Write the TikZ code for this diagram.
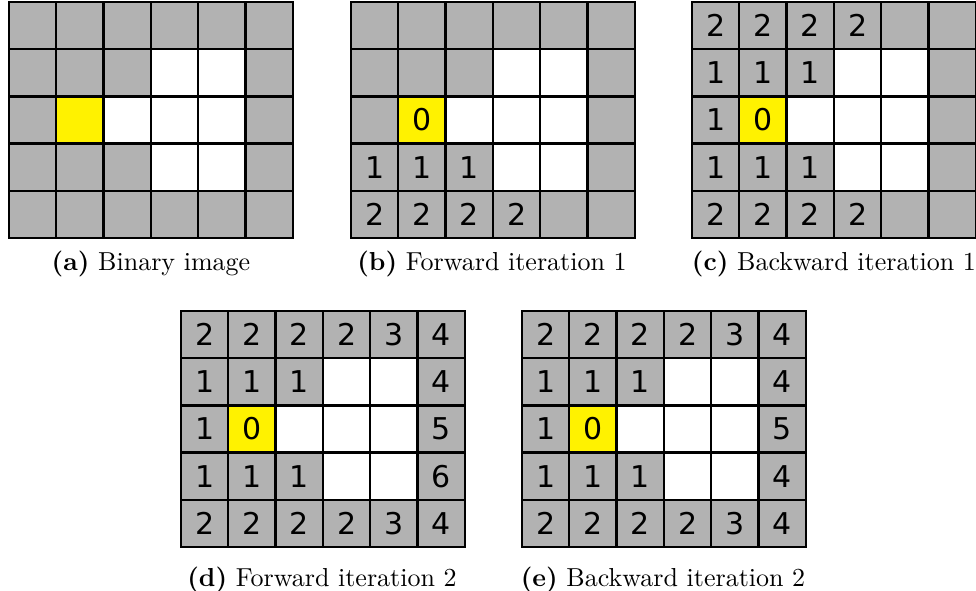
\documentclass[tikz,border=0pt]{standalone}
\usepackage{fontspec}
\newfontfamily\digitfont{DejaVu Sans}
\usepackage{tikz}
\usetikzlibrary{calc}

\colorlet{bk}{black!30}
\colorlet{fg}{white}
\colorlet{sd}{yellow}

\tikzset{
  cell/.style={draw=black, line width=0.9pt, inner sep=0pt,
    minimum width=18.92pt, minimum height=18.88pt,
    font=\digitfont\fontsize{12}{14}\selectfont},
  subcap/.style={anchor=base, font=\fontsize{10.4}{12}\selectfont}
}

% #1 name, #2 left x, #3 top y, #4 rows of fill/value
\newcommand{\distgrid}[4]{%
  \foreach \row [count=\r] in {#4} {
    \foreach \f/\v [count=\c] in \row {
      \node[cell, fill=\f] (#1-\r-\c) at ({#2+(\c-0.5)*47.3},{#3+(\r-0.5)*47.2}) {\v};
    }
  }%
}

\begin{document}
\begin{tikzpicture}[x=0.4pt, y=-0.4pt]
  \useasboundingbox (0,0) rectangle (976,591);

  % (a) binary image
  \distgrid{ga}{9}{2}{
    {bk/,bk/,bk/,bk/,bk/,bk/},
    {bk/,bk/,bk/,fg/,fg/,bk/},
    {bk/,sd/,fg/,fg/,fg/,bk/},
    {bk/,bk/,bk/,fg/,fg/,bk/},
    {bk/,bk/,bk/,bk/,bk/,bk/}}
  \node[subcap] (capa) at (151,271) {\textbf{(a)} Binary image};

  % (b) forward 1
  \distgrid{gb}{351}{2}{
    {bk/,bk/,bk/,bk/,bk/,bk/},
    {bk/,bk/,bk/,fg/,fg/,bk/},
    {bk/,sd/0,fg/,fg/,fg/,bk/},
    {bk/1,bk/1,bk/1,fg/,fg/,bk/},
    {bk/2,bk/2,bk/2,bk/2,bk/,bk/}}
  \node[subcap] (capb) at (492,271) {\textbf{(b)} Forward iteration 1};

  % (c) backward 1
  \distgrid{gc}{692}{2}{
    {bk/2,bk/2,bk/2,bk/2,bk/,bk/},
    {bk/1,bk/1,bk/1,fg/,fg/,bk/},
    {bk/1,sd/0,fg/,fg/,fg/,bk/},
    {bk/1,bk/1,bk/1,fg/,fg/,bk/},
    {bk/2,bk/2,bk/2,bk/2,bk/,bk/}}
  \node[subcap] (capc) at (834,271) {\textbf{(c)} Backward iteration 1};

  % (d) forward 2
  \distgrid{gd}{181}{311}{
    {bk/2,bk/2,bk/2,bk/2,bk/3,bk/4},
    {bk/1,bk/1,bk/1,fg/,fg/,bk/4},
    {bk/1,sd/0,fg/,fg/,fg/,bk/5},
    {bk/1,bk/1,bk/1,fg/,fg/,bk/6},
    {bk/2,bk/2,bk/2,bk/2,bk/3,bk/4}}
  \node[subcap] (capd) at (322,587) {\textbf{(d)} Forward iteration 2};

  % (e) backward 2
  \distgrid{ge}{522}{311}{
    {bk/2,bk/2,bk/2,bk/2,bk/3,bk/4},
    {bk/1,bk/1,bk/1,fg/,fg/,bk/4},
    {bk/1,sd/0,fg/,fg/,fg/,bk/5},
    {bk/1,bk/1,bk/1,fg/,fg/,bk/4},
    {bk/2,bk/2,bk/2,bk/2,bk/3,bk/4}}
  \node[subcap] (cape) at (663,587) {\textbf{(e)} Backward iteration 2};
\end{tikzpicture}
\end{document}
